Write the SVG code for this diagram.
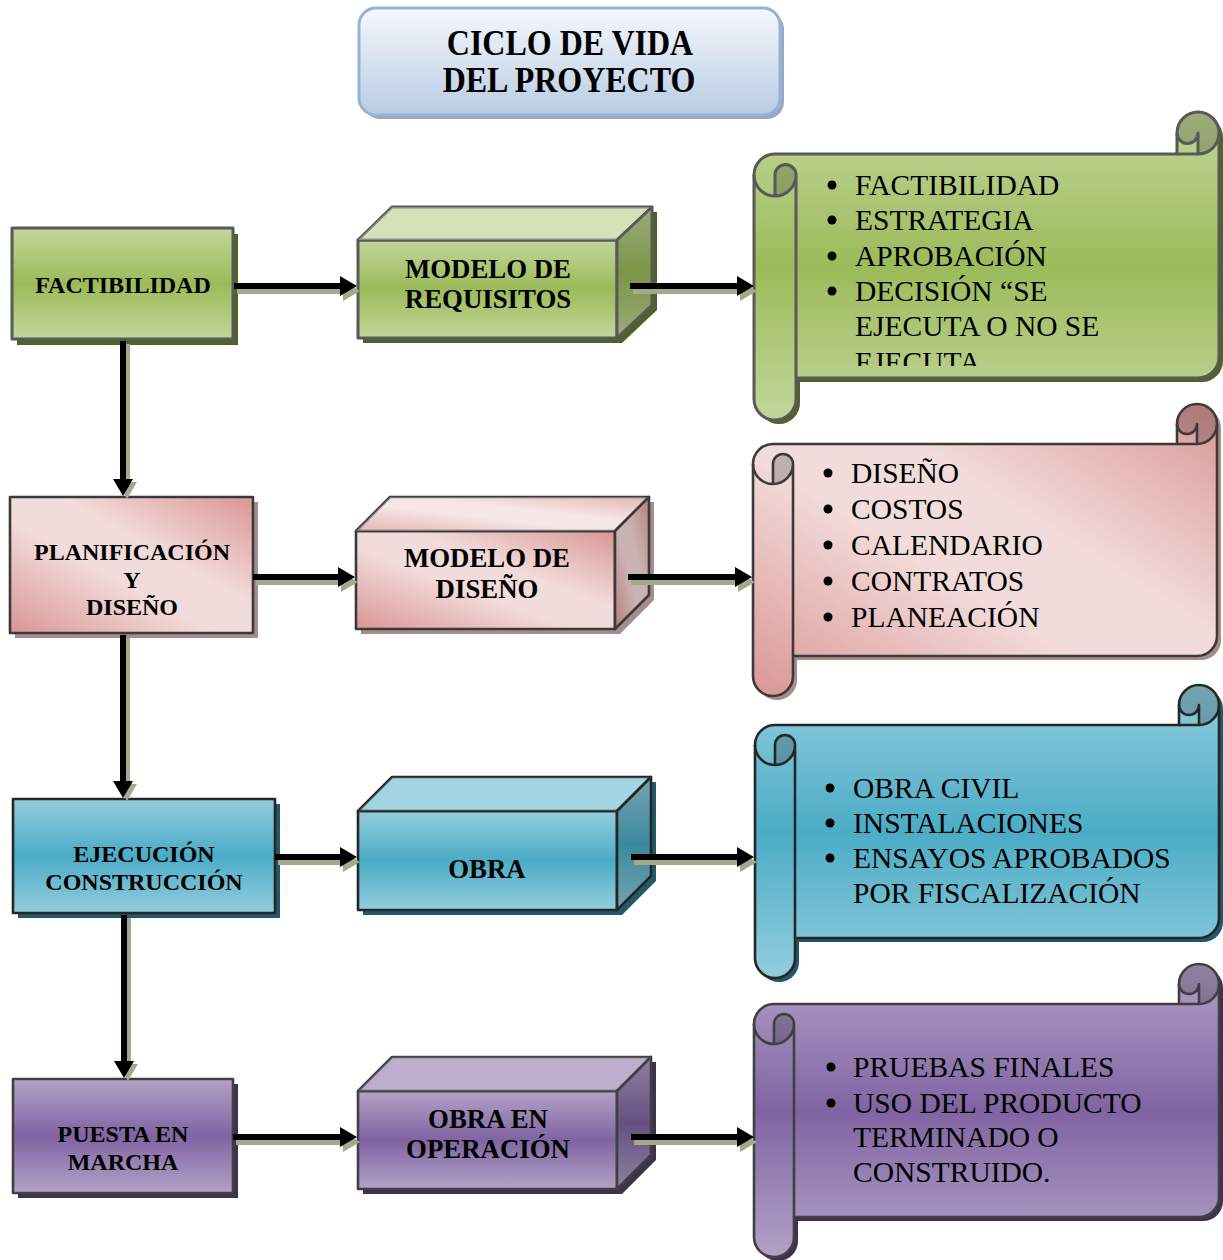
<svg xmlns="http://www.w3.org/2000/svg" width="1223" height="1260" viewBox="0 0 1223 1260">
  <style>
    .tb { font-family: "Liberation Serif", "Times New Roman", serif; font-weight: bold; font-size: 24px; text-anchor: middle; fill: #000; }
    .tc { font-family: "Liberation Serif", "Times New Roman", serif; font-weight: bold; font-size: 26.8px; text-anchor: middle; fill: #000; }
    .tl { font-family: "Liberation Serif", "Times New Roman", serif; font-size: 29.5px; fill: #000; }
    .tt { font-family: "Liberation Serif", "Times New Roman", serif; font-weight: bold; font-size: 32px; text-anchor: middle; fill: #000; }
    .bul { fill: #000; }
    .ln-g { stroke: #595959; stroke-width: 3; stroke-linejoin: round; }
    .ln-p { stroke: #3a3a3a; stroke-width: 2.6; stroke-linejoin: round; }
    .ln-b { stroke: #262626; stroke-width: 2.6; stroke-linejoin: round; }
    .ln-v { stroke: #404040; stroke-width: 2.6; stroke-linejoin: round; }
    .detail { fill: none; }
    .curl { fill: #000; fill-opacity: 0.2; }
    .face-top { fill: #fff; fill-opacity: 0.3; }
    .face-side { fill: #000; fill-opacity: 0.2; }
    .sh-g { fill: #4f6228; }
    .sh-p { fill: #a88c8c; }
    .sh-b { fill: #215968; }
    .sh-v { fill: #3f3151; }
    .arr { fill: #000; }
    .ash { fill: #a3a98b; }
  </style>
  <defs>
    <linearGradient id="gGreen" x1="0" y1="0" x2="0" y2="1">
      <stop offset="0" stop-color="#c3d69b"/>
      <stop offset="0.5" stop-color="#9bbb59"/>
      <stop offset="1" stop-color="#c3d69b"/>
    </linearGradient>
    <linearGradient id="gPink" x1="0" y1="1" x2="1" y2="0">
      <stop offset="0" stop-color="#d99694"/>
      <stop offset="0.42" stop-color="#f2dcdb"/>
      <stop offset="0.6" stop-color="#f2dcdb"/>
      <stop offset="1" stop-color="#d99694"/>
    </linearGradient>
    <linearGradient id="gBlue" x1="0" y1="0" x2="0" y2="1">
      <stop offset="0" stop-color="#93cddd"/>
      <stop offset="0.5" stop-color="#4bacc6"/>
      <stop offset="1" stop-color="#93cddd"/>
    </linearGradient>
    <linearGradient id="gPurple" x1="0" y1="0" x2="0" y2="1">
      <stop offset="0" stop-color="#b3a2c7"/>
      <stop offset="0.5" stop-color="#8064a2"/>
      <stop offset="1" stop-color="#b3a2c7"/>
    </linearGradient>
    <linearGradient id="gTitle" x1="0" y1="0" x2="0" y2="1">
      <stop offset="0" stop-color="#f6f8fc"/>
      <stop offset="1" stop-color="#b8cce4"/>
    </linearGradient>
    <clipPath id="clipGreenText">
      <rect x="800" y="150" width="410" height="216"/>
    </clipPath>
  </defs>

  <!-- Title -->
  <g id="title">
    <rect x="363" y="12" width="421" height="107" rx="17" fill="#98a9c6"/>
    <rect x="359" y="8" width="421" height="107" rx="17" fill="url(#gTitle)" stroke="#95b3d7" stroke-width="3"/>
    <text class="tt" transform="translate(570 55) scale(1 1.13)">CICLO DE VIDA</text>
    <text class="tt" transform="translate(569 92) scale(1 1.13)">DEL PROYECTO</text>
  </g>

  <!-- Phase boxes (left column) -->
  <g id="n-factibilidad">
    <rect x="17" y="234" width="221" height="111" class="sh-g"/>
    <rect x="12" y="228" width="221" height="111" fill="url(#gGreen)" class="ln-g"/>
    <text class="tb" x="123" y="293">FACTIBILIDAD</text>
  </g>
  <g id="n-planificacion">
    <rect x="15" y="502" width="243" height="136" class="sh-p"/>
    <rect x="10" y="497" width="243" height="136" fill="url(#gPink)" class="ln-p"/>
    <text class="tb" x="132" y="560">PLANIFICACIÓN</text>
    <text class="tb" x="132" y="588">Y</text>
    <text class="tb" x="132" y="615">DISEÑO</text>
  </g>
  <g id="n-ejecucion">
    <rect x="18" y="804" width="262" height="114" class="sh-b"/>
    <rect x="13" y="799" width="262" height="114" fill="url(#gBlue)" class="ln-b"/>
    <text class="tb" x="144" y="862">EJECUCIÓN</text>
    <text class="tb" x="144" y="890">CONSTRUCCIÓN</text>
  </g>
  <g id="n-puesta">
    <rect x="18" y="1084" width="220" height="114" class="sh-v"/>
    <rect x="13" y="1079" width="220" height="114" fill="url(#gPurple)" class="ln-v"/>
    <text class="tb" x="123" y="1142">PUESTA EN</text>
    <text class="tb" x="123" y="1170">MARCHA</text>
  </g>

  <!-- Deliverable blocks (middle column) -->
  <g id="n-modelo-requisitos">
    <polygon points="363,245 397,212 657,212 657,310 622,343 363,343" class="sh-g"/>
    <rect x="358" y="240" width="259" height="98" fill="url(#gGreen)" class="ln-g"/>
    <polygon points="358,240 392,207 652,207 617,240" fill="#c3d69b" class="ln-g"/>
    <polygon points="358,240 392,207 652,207 617,240" class="face-top"/>
    <polygon points="617,240 652,207 652,305 617,338" fill="url(#gGreen)"/>
    <polygon points="617,240 652,207 652,305 617,338" class="face-side ln-g"/>
    <text class="tc" x="488" y="278">MODELO DE</text>
    <text class="tc" x="488" y="308">REQUISITOS</text>
  </g>
  <g id="n-modelo-diseno">
    <polygon points="361,536 395,502 654,502 654,600 620,634 361,634" class="sh-p"/>
    <rect x="356" y="531" width="259" height="98" fill="url(#gPink)" class="ln-p"/>
    <polygon points="356,531 390,497 649,497 615,531" fill="url(#gPink)" class="ln-p"/>
    <polygon points="356,531 390,497 649,497 615,531" class="face-top"/>
    <polygon points="615,531 649,497 649,595 615,629" fill="url(#gPink)"/>
    <polygon points="615,531 649,497 649,595 615,629" class="ln-p" style="fill:#503c3c;fill-opacity:0.25"/>
    <text class="tc" x="487" y="567">MODELO DE</text>
    <text class="tc" x="487" y="598">DISEÑO</text>
  </g>
  <g id="n-obra">
    <polygon points="363,816 397,782 656,782 656,881 622,915 363,915" class="sh-b"/>
    <rect x="358" y="811" width="259" height="99" fill="url(#gBlue)" class="ln-b"/>
    <polygon points="358,811 392,777 651,777 617,811" fill="#93cddd" class="ln-b"/>
    <polygon points="358,811 392,777 651,777 617,811" class="face-top" style="fill-opacity:0.15"/>
    <polygon points="617,811 651,777 651,876 617,910" fill="url(#gBlue)"/>
    <polygon points="617,811 651,777 651,876 617,910" class="face-side ln-b"/>
    <text class="tc" x="487" y="878">OBRA</text>
  </g>
  <g id="n-obra-operacion">
    <polygon points="363,1096 397,1062 656,1062 656,1160 622,1194 363,1194" class="sh-v"/>
    <rect x="358" y="1091" width="259" height="98" fill="url(#gPurple)" class="ln-v"/>
    <polygon points="358,1091 392,1057 651,1057 617,1091" fill="#b3a2c7" class="ln-v"/>
    <polygon points="358,1091 392,1057 651,1057 617,1091" class="face-top" style="fill-opacity:0.15"/>
    <polygon points="617,1091 651,1057 651,1155 617,1189" fill="url(#gPurple)"/>
    <polygon points="617,1091 651,1057 651,1155 617,1189" class="face-side ln-v"/>
    <text class="tc" x="488" y="1128">OBRA EN</text>
    <text class="tc" x="488" y="1158">OPERACIÓN</text>
  </g>

  <!-- Scroll lists (right column) -->
  <g id="n-lista-factibilidad">
    <path transform="translate(4 4)" class="sh-g" d="M754,175 A21,21 0 0 1 775,154 L1177,154 L1177,133 A21,21 0 0 1 1219,133 L1219,357 A21,21 0 0 1 1198,378 L796,378 L796,399 A21,21 0 0 1 754,399 Z"/>
    <path fill="url(#gGreen)" d="M754,175 A21,21 0 0 1 775,154 L1177,154 L1177,133 A21,21 0 0 1 1219,133 L1219,357 A21,21 0 0 1 1198,378 L796,378 L796,399 A21,21 0 0 1 754,399 Z"/>
    <path class="curl" d="M775,196 A21,21 0 0 0 796,175 A10.5,10.5 0 0 0 775,175 Z M1198,154 A21,21 0 1 0 1177,133 A10.5,10.5 0 0 0 1198,133 Z"/>
    <path class="ln-g" fill="none" d="M754,175 A21,21 0 0 1 775,154 L1177,154 L1177,133 A21,21 0 0 1 1219,133 L1219,357 A21,21 0 0 1 1198,378 L796,378 L796,399 A21,21 0 0 1 754,399 Z"/>
    <path class="ln-g detail" d="M1177,154 L1198,154 A21,21 0 0 0 1219,133 M1198,154 L1198,133 A10.5,10.5 0 0 1 1177,133 M775,196 L775,175 A10.5,10.5 0 0 1 796,175 A21,21 0 0 1 754,175 M796,175 L796,378"/>
    <g clip-path="url(#clipGreenText)">
      <circle class="bul" cx="832" cy="185" r="4.5"/>
      <circle class="bul" cx="832" cy="220" r="4.5"/>
      <circle class="bul" cx="832" cy="256" r="4.5"/>
      <circle class="bul" cx="832" cy="291" r="4.5"/>
      <text class="tl" x="855" y="195">FACTIBILIDAD</text>
      <text class="tl" x="855" y="230">ESTRATEGIA</text>
      <text class="tl" x="855" y="266">APROBACIÓN</text>
      <text class="tl" x="855" y="301">DECISIÓN “SE</text>
      <text class="tl" x="855" y="336">EJECUTA O NO SE</text>
      <text class="tl" x="855" y="372">EJECUTA</text>
    </g>
  </g>
  <g id="n-lista-diseno">
    <path transform="translate(4 4)" class="sh-p" d="M753,464 A20,20 0 0 1 773,444 L1177,444 L1177,424 A20,20 0 0 1 1217,424 L1217,636 A20,20 0 0 1 1197,656 L793,656 L793,676 A20,20 0 0 1 753,676 Z"/>
    <path fill="url(#gPink)" d="M753,464 A20,20 0 0 1 773,444 L1177,444 L1177,424 A20,20 0 0 1 1217,424 L1217,636 A20,20 0 0 1 1197,656 L793,656 L793,676 A20,20 0 0 1 753,676 Z"/>
    <path class="curl" d="M773,484 A20,20 0 0 0 793,464 A10,10 0 0 0 773,464 Z M1197,444 A20,20 0 1 0 1177,424 A10,10 0 0 0 1197,424 Z"/>
    <path class="ln-p" fill="none" d="M753,464 A20,20 0 0 1 773,444 L1177,444 L1177,424 A20,20 0 0 1 1217,424 L1217,636 A20,20 0 0 1 1197,656 L793,656 L793,676 A20,20 0 0 1 753,676 Z"/>
    <path class="ln-p detail" d="M1177,444 L1197,444 A20,20 0 0 0 1217,424 M1197,444 L1197,424 A10,10 0 0 1 1177,424 M773,484 L773,464 A10,10 0 0 1 793,464 A20,20 0 0 1 753,464 M793,464 L793,656"/>
    <circle class="bul" cx="828" cy="473" r="4.5"/>
    <circle class="bul" cx="828" cy="509" r="4.5"/>
    <circle class="bul" cx="828" cy="545" r="4.5"/>
    <circle class="bul" cx="828" cy="581" r="4.5"/>
    <circle class="bul" cx="828" cy="617" r="4.5"/>
    <text class="tl" x="851" y="483">DISEÑO</text>
    <text class="tl" x="851" y="519">COSTOS</text>
    <text class="tl" x="851" y="555">CALENDARIO</text>
    <text class="tl" x="851" y="591">CONTRATOS</text>
    <text class="tl" x="851" y="627">PLANEACIÓN</text>
  </g>
  <g id="n-lista-obra">
    <path transform="translate(4 4)" class="sh-b" d="M755,745 A20,20 0 0 1 775,725 L1179,725 L1179,705 A20,20 0 0 1 1219,705 L1219,918 A20,20 0 0 1 1199,938 L795,938 L795,958 A20,20 0 0 1 755,958 Z"/>
    <path fill="url(#gBlue)" d="M755,745 A20,20 0 0 1 775,725 L1179,725 L1179,705 A20,20 0 0 1 1219,705 L1219,918 A20,20 0 0 1 1199,938 L795,938 L795,958 A20,20 0 0 1 755,958 Z"/>
    <path class="curl" d="M775,765 A20,20 0 0 0 795,745 A10,10 0 0 0 775,745 Z M1199,725 A20,20 0 1 0 1179,705 A10,10 0 0 0 1199,705 Z"/>
    <path class="ln-b" fill="none" d="M755,745 A20,20 0 0 1 775,725 L1179,725 L1179,705 A20,20 0 0 1 1219,705 L1219,918 A20,20 0 0 1 1199,938 L795,938 L795,958 A20,20 0 0 1 755,958 Z"/>
    <path class="ln-b detail" d="M1179,725 L1199,725 A20,20 0 0 0 1219,705 M1199,725 L1199,705 A10,10 0 0 1 1179,705 M775,765 L775,745 A10,10 0 0 1 795,745 A20,20 0 0 1 755,745 M795,745 L795,938"/>
    <circle class="bul" cx="830" cy="788" r="4.5"/>
    <circle class="bul" cx="830" cy="823" r="4.5"/>
    <circle class="bul" cx="830" cy="858" r="4.5"/>
    <text class="tl" x="853" y="798">OBRA CIVIL</text>
    <text class="tl" x="853" y="833">INSTALACIONES</text>
    <text class="tl" x="853" y="868">ENSAYOS APROBADOS</text>
    <text class="tl" x="853" y="903">POR FISCALIZACIÓN</text>
  </g>
  <g id="n-lista-operacion">
    <path transform="translate(4 4)" class="sh-v" d="M754,1024 A20,20 0 0 1 774,1004 L1179,1004 L1179,984 A20,20 0 0 1 1219,984 L1219,1197 A20,20 0 0 1 1199,1217 L794,1217 L794,1237 A20,20 0 0 1 754,1237 Z"/>
    <path fill="url(#gPurple)" d="M754,1024 A20,20 0 0 1 774,1004 L1179,1004 L1179,984 A20,20 0 0 1 1219,984 L1219,1197 A20,20 0 0 1 1199,1217 L794,1217 L794,1237 A20,20 0 0 1 754,1237 Z"/>
    <path class="curl" d="M774,1044 A20,20 0 0 0 794,1024 A10,10 0 0 0 774,1024 Z M1199,1004 A20,20 0 1 0 1179,984 A10,10 0 0 0 1199,984 Z"/>
    <path class="ln-v" fill="none" d="M754,1024 A20,20 0 0 1 774,1004 L1179,1004 L1179,984 A20,20 0 0 1 1219,984 L1219,1197 A20,20 0 0 1 1199,1217 L794,1217 L794,1237 A20,20 0 0 1 754,1237 Z"/>
    <path class="ln-v detail" d="M1179,1004 L1199,1004 A20,20 0 0 0 1219,984 M1199,1004 L1199,984 A10,10 0 0 1 1179,984 M774,1044 L774,1024 A10,10 0 0 1 794,1024 A20,20 0 0 1 754,1024 M794,1024 L794,1217"/>
    <circle class="bul" cx="831" cy="1067" r="4.5"/>
    <circle class="bul" cx="831" cy="1103" r="4.5"/>
    <text class="tl" x="853" y="1077">PRUEBAS FINALES</text>
    <text class="tl" x="853" y="1113">USO DEL PRODUCTO</text>
    <text class="tl" x="853" y="1147">TERMINADO O</text>
    <text class="tl" x="853" y="1182">CONSTRUIDO.</text>
  </g>

  <!-- Connectors: block arrows with a soft offset shadow -->
  <g id="connectors">
    <g transform="translate(3 5)" class="ash">
      <path d="M234,283 L340,283 L340,276 L357,286 L340,296 L340,289 L234,289 Z"/>
      <path d="M253,574 L338,574 L338,567 L355,577 L338,587 L338,580 L253,580 Z"/>
      <path d="M275,854 L340,854 L340,847 L357,857 L340,867 L340,860 L275,860 Z"/>
      <path d="M233,1134 L340,1134 L340,1127 L357,1137 L340,1147 L340,1140 L233,1140 Z"/>
      <path d="M630,283 L737,283 L737,276 L754,286 L737,296 L737,289 L630,289 Z"/>
      <path d="M628,574 L735,574 L735,567 L752,577 L735,587 L735,580 L628,580 Z"/>
      <path d="M631,854 L737,854 L737,847 L754,857 L737,867 L737,860 L631,860 Z"/>
      <path d="M631,1134 L737,1134 L737,1127 L754,1137 L737,1147 L737,1140 L631,1140 Z"/>
    </g>
    <g transform="translate(4 3)" class="ash">
      <path d="M120,341 L120,479 L113,479 L123,496 L133,479 L126,479 L126,341 Z"/>
      <path d="M120,635 L120,781 L113,781 L123,798 L133,781 L126,781 L126,635 Z"/>
      <path d="M121,915 L121,1061 L114,1061 L124,1078 L134,1061 L127,1061 L127,915 Z"/>
    </g>
    <g class="arr">
      <path d="M234,283 L340,283 L340,276 L357,286 L340,296 L340,289 L234,289 Z"/>
      <path d="M253,574 L338,574 L338,567 L355,577 L338,587 L338,580 L253,580 Z"/>
      <path d="M275,854 L340,854 L340,847 L357,857 L340,867 L340,860 L275,860 Z"/>
      <path d="M233,1134 L340,1134 L340,1127 L357,1137 L340,1147 L340,1140 L233,1140 Z"/>
      <path d="M630,283 L737,283 L737,276 L754,286 L737,296 L737,289 L630,289 Z"/>
      <path d="M628,574 L735,574 L735,567 L752,577 L735,587 L735,580 L628,580 Z"/>
      <path d="M631,854 L737,854 L737,847 L754,857 L737,867 L737,860 L631,860 Z"/>
      <path d="M631,1134 L737,1134 L737,1127 L754,1137 L737,1147 L737,1140 L631,1140 Z"/>
      <path d="M120,341 L120,479 L113,479 L123,496 L133,479 L126,479 L126,341 Z"/>
      <path d="M120,635 L120,781 L113,781 L123,798 L133,781 L126,781 L126,635 Z"/>
      <path d="M121,915 L121,1061 L114,1061 L124,1078 L134,1061 L127,1061 L127,915 Z"/>
    </g>
  </g>
</svg>
